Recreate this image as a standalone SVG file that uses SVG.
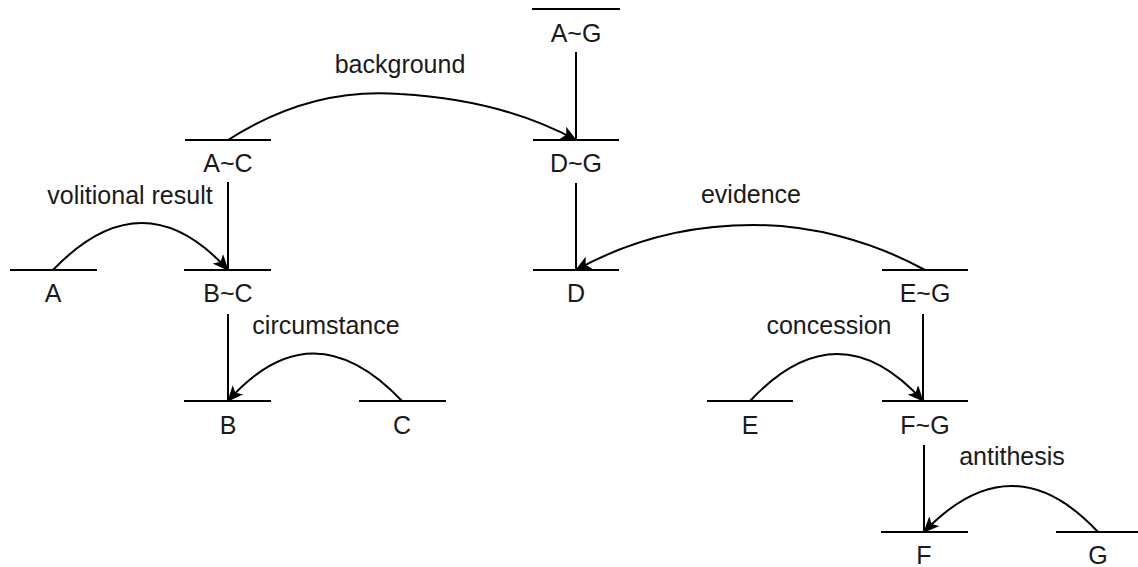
<svg xmlns="http://www.w3.org/2000/svg" width="1138" height="567" viewBox="0 0 1138 567">
<style>
.seg{stroke:#000;stroke-width:2;fill:none}
.lbl{font-family:"Liberation Sans",Arial,sans-serif;font-size:25px;fill:#1a1a1a;text-anchor:middle}
.edge{stroke:#000;stroke-width:2;fill:none}
.arc{stroke:#000;stroke-width:2;fill:none;marker-end:url(#ah)}
</style>
<defs>
<marker id="ah" markerUnits="userSpaceOnUse" markerWidth="16" markerHeight="14" refX="15" refY="7" orient="auto">
<path d="M0,0 L16,7 L0,14 L4,7 z" fill="#000"/>
</marker>
</defs>
<rect width="1138" height="567" fill="#fff"/>
<g id="node-AG"><line class="seg" x1="532" y1="9" x2="620" y2="9"/><text class="lbl" x="576" y="42">A~G</text></g>
<g id="node-AC"><line class="seg" x1="185" y1="140" x2="271" y2="140"/><text class="lbl" x="228" y="172">A~C</text></g>
<g id="node-DG"><line class="seg" x1="533" y1="140" x2="619" y2="140"/><text class="lbl" x="576" y="172">D~G</text></g>
<g id="node-A"><line class="seg" x1="10" y1="270" x2="97" y2="270"/><text class="lbl" x="53" y="302">A</text></g>
<g id="node-BC"><line class="seg" x1="184" y1="270" x2="271" y2="270"/><text class="lbl" x="228" y="302">B~C</text></g>
<g id="node-D"><line class="seg" x1="533" y1="270" x2="619" y2="270"/><text class="lbl" x="576" y="302">D</text></g>
<g id="node-EG"><line class="seg" x1="882" y1="270" x2="968" y2="270"/><text class="lbl" x="925" y="302">E~G</text></g>
<g id="node-B"><line class="seg" x1="184" y1="401" x2="271" y2="401"/><text class="lbl" x="228" y="434">B</text></g>
<g id="node-C"><line class="seg" x1="359" y1="401" x2="446" y2="401"/><text class="lbl" x="402" y="434">C</text></g>
<g id="node-E"><line class="seg" x1="707" y1="401" x2="793" y2="401"/><text class="lbl" x="750" y="434">E</text></g>
<g id="node-FG"><line class="seg" x1="882" y1="401" x2="968" y2="401"/><text class="lbl" x="925" y="434">F~G</text></g>
<g id="node-F"><line class="seg" x1="881" y1="532" x2="968" y2="532"/><text class="lbl" x="924" y="564">F</text></g>
<g id="node-G"><line class="seg" x1="1056" y1="532" x2="1142" y2="532"/><text class="lbl" x="1098" y="564">G</text></g>
<g id="connectors">
<line class="edge" x1="576" y1="52" x2="576" y2="140"/>
<line class="edge" x1="228" y1="182" x2="228" y2="270"/>
<line class="edge" x1="228" y1="314" x2="228" y2="401"/>
<line class="edge" x1="576" y1="183" x2="576" y2="270"/>
<line class="edge" x1="923" y1="314" x2="923" y2="401"/>
<line class="edge" x1="924" y1="445" x2="924" y2="532"/>
<path class="arc" d="M228,140 C290,100 350,90 400,94 C470,98 530,115 576,140"/>
<path class="arc" d="M53,270 Q143,176 228,270"/>
<path class="arc" d="M402,401 Q312,306 228,401"/>
<path class="arc" d="M925,270 C870,240 810,225 753,225 C690,225 630,240 576,270"/>
<path class="arc" d="M750,401 Q838,307 923,401"/>
<path class="arc" d="M1098,532 Q1012,440 924,532"/>
<text class="lbl" x="400" y="73">background</text>
<text class="lbl" x="130" y="204">volitional result</text>
<text class="lbl" x="326" y="334">circumstance</text>
<text class="lbl" x="751" y="203">evidence</text>
<text class="lbl" x="829" y="334">concession</text>
<text class="lbl" x="1012" y="465">antithesis</text>
</g>
</svg>
